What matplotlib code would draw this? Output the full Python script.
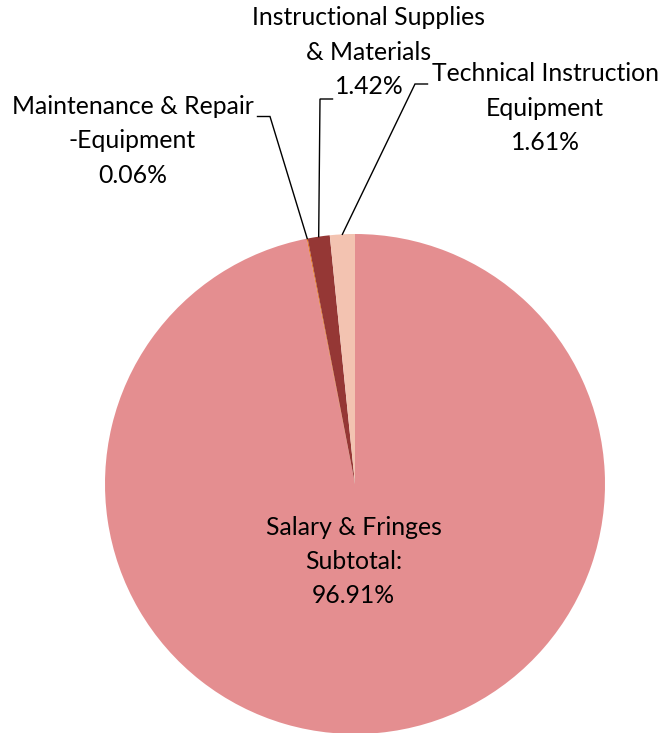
import numpy as np
import matplotlib
matplotlib.use("Agg")
import matplotlib.pyplot as plt

plt.rcParams['font.family'] = ['Lato', 'DejaVu Sans']

# data, clockwise from 12 o'clock
labels = ["Salary & Fringes\nSubtotal:", "Maintenance & Repair\n-Equipment",
          "Instructional Supplies\n& Materials", "Technical Instruction\nEquipment"]
values = [96.91, 0.06, 1.42, 1.61]
colors = ["#E48E90", "#E46C0A", "#953735", "#F3C3B1"]

fig = plt.figure(figsize=(6.71, 7.33), dpi=100)
ax = fig.add_axes([105 / 671, -1 / 733, 500 / 671, 500 / 733])

wedges, _ = ax.pie(values, colors=colors, startangle=90, counterclock=False,
                   radius=1.0, wedgeprops=dict(linewidth=0))
ax.set_xlim(-1, 1)
ax.set_ylim(-1, 1)
ax.set_aspect('equal')
ax.axis('off')

fs = 17.8
ls = 1.6
# big slice label inside
ax.text(-0.005, -0.31, labels[0] + "\n%.2f%%" % values[0], ha='center', va='center',
        fontsize=fs, linespacing=ls)

# outside labels: text centre, elbow point, horizontal end (data units)
label_pos = [None, (-0.89, 1.372), (0.056, 1.728), (0.76, 1.504)]
elbows = [None, (-0.34, 1.47), (-0.14, 1.54), (0.24, 1.60)]
ends = [None, (-0.39, 1.47), (-0.09, 1.54), (0.29, 1.60)]

for i in range(1, len(values)):
    w = wedges[i]
    ang = np.deg2rad((w.theta1 + w.theta2) / 2)
    px, py = np.cos(ang), np.sin(ang)
    ex, ey = elbows[i]
    hx, hy = ends[i]
    ax.plot([px, ex, hx], [py, ey, hy], color='black', lw=1.0, clip_on=False,
            solid_joinstyle='miter')
    tx, ty = label_pos[i]
    ax.text(tx, ty, labels[i] + "\n%.2f%%" % values[i], ha='center', va='center',
            fontsize=fs, linespacing=ls, clip_on=False)

fig.savefig("out.png", dpi=100)
